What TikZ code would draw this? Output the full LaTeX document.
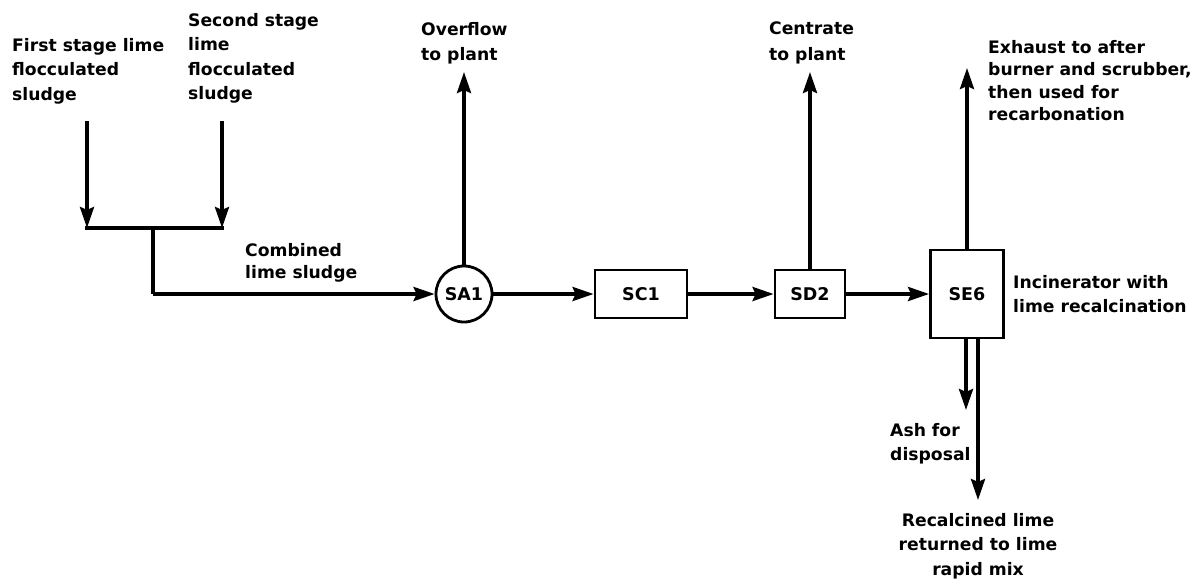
\documentclass[tikz,border=0pt]{standalone}
\usepackage{fontspec}
\setmainfont{DejaVu Sans}
\usetikzlibrary{arrows.meta}
\begin{document}
\begin{tikzpicture}[x=1pt,y=-1pt,
  flow/.style={line width=3.6pt,-{Stealth[length=21pt,width=14pt,inset=3pt]}},
  pipe/.style={line width=3.2pt},
  unitbox/.style={draw,line width=2.8pt,inner sep=0pt,font=\bfseries\fontsize{17.5}{20}\selectfont},
  lbl/.style={inner sep=0pt,anchor=north west,align=left,font=\bfseries\fontsize{17.2}{24.5}\selectfont},
  lbltight/.style={lbl,font=\bfseries\fontsize{17.2}{22.5}\selectfont}]
\useasboundingbox (0,0) rectangle (1200,582);

% labels
\node[lbl] (first) at (12,38) {First stage lime\\flocculated\\sludge};
\node[lbl] (second) at (188,13) {Second stage\\lime\\flocculated\\sludge};
\node[lbltight] (comb) at (245,243) {Combined\\lime sludge};
\node[lbl,font=\bfseries\fontsize{17.2}{25.5}\selectfont] (over) at (421,22) {Overflow\\to plant};
\node[lbl,font=\bfseries\fontsize{17.2}{25.5}\selectfont] (cent) at (769,22) {Centrate\\to plant};
\node[lbltight] (exh) at (988,40) {Exhaust to after\\burner and scrubber,\\then used for\\recarbonation};
\node[lbl] (inc) at (1013,275) {Incinerator with\\lime recalcination};
\node[lbl] (ash) at (890,423) {Ash for\\disposal};
\node[lbl,anchor=north,align=center] (rec) at (978,513) {Recalcined lime\\returned to lime\\rapid mix};

% units
\node[unitbox,circle,minimum size=56pt] (SA1) at (464,294) {SA1};
\node[unitbox,minimum width=92pt,minimum height=48pt] (SC1) at (641,294) {SC1};
\node[unitbox,minimum width=70pt,minimum height=48pt] (SD2) at (810,294) {SD2};
\node[unitbox,minimum width=73pt,minimum height=88pt] (SE6) at (967,294) {SE6};

% coordinates
\coordinate (s1) at (87,121);
\coordinate (s2) at (222,121);
\coordinate (j1) at (87,228);
\coordinate (j2) at (222,228);
\coordinate (jm) at (153,228);
\coordinate (jb) at (153,294);
\coordinate (ovt) at (464,72);
\coordinate (cet) at (810,72);
\coordinate (ext) at (967,68);
\coordinate (asht) at (966,410);
\coordinate (limt) at (978,500);

% connectors
\draw[flow] (s1) -- (j1);
\draw[flow] (s2) -- (j2);
\draw[pipe,line cap=rect] (j1) -- (j2);
\draw[pipe,line join=miter] (jm) -- (jb);
\draw[flow] (jb) -- (SA1.west);
\draw[flow] (SA1.north) -- (ovt);
\draw[flow] (SA1.east) -- (SC1.west);
\draw[flow] (SC1.east) -- (SD2.west);
\draw[flow] (SD2.north) -- (cet);
\draw[flow] (SD2.east) -- (SE6.west);
\draw[flow] (SE6.north) -- (ext);
\draw[flow] (SE6.south -| asht) -- (asht);
\draw[flow] (SE6.south -| limt) -- (limt);
\end{tikzpicture}
\end{document}
